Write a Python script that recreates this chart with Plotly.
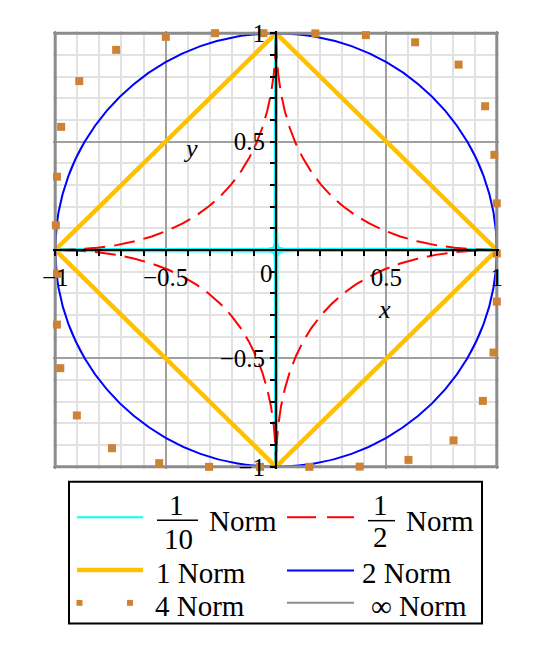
import plotly.graph_objects as go

# ---------------- data (first-quadrant samples) ----------------
# 1/10 norm (hugs the axes, tiny fillet at the origin)
TENTH_X = [1.0, 0.1, 0.03, 0.012, 0.006, 0.002, 0.0, 0.0]
TENTH_Y = [0.0, 0.0, 0.002, 0.006, 0.012, 0.03, 0.1, 1.0]
# 1/2 norm
HALF_X = [1.0, 0.9025, 0.81, 0.7225, 0.64, 0.5625, 0.49, 0.4225, 0.36, 0.3025, 0.25,
          0.2025, 0.16, 0.1225, 0.09, 0.0625, 0.04, 0.0225, 0.01, 0.0025, 0.0]
HALF_Y = [0.0, 0.0025, 0.01, 0.0225, 0.04, 0.0625, 0.09, 0.1225, 0.16, 0.2025, 0.25,
          0.3025, 0.36, 0.4225, 0.49, 0.5625, 0.64, 0.7225, 0.81, 0.9025, 1.0]
# 1 norm
ONE_X = [1.0, 0.0]
ONE_Y = [0.0, 1.0]
# 2 norm
TWO_X = [1.0, 0.985, 0.94, 0.866, 0.766, 0.643, 0.5, 0.342, 0.174, 0.0]
TWO_Y = [0.0, 0.174, 0.342, 0.5, 0.643, 0.766, 0.866, 0.94, 0.985, 1.0]
# 4 norm (sparse points, full loop)
FOUR_X = [1.0, 1.0, 0.989, 0.947, 0.827, 0.63, 0.407, 0.178, -0.057, -0.276, -0.499,
          -0.724, -0.891, -0.973, -0.992, -0.997, -0.992, -0.992, -0.977, -0.902, -0.743,
          -0.529, -0.303, -0.072, 0.151, 0.379, 0.6, 0.804, 0.937, 0.985, 1.0]
FOUR_Y = [-0.016, 0.215, 0.439, 0.663, 0.855, 0.958, 0.991, 0.999, 1.0, 1.0, 0.983,
          0.923, 0.779, 0.568, 0.338, 0.114, -0.11, -0.344, -0.545, -0.763, -0.914,
          -0.983, -1.0, -1.0, -1.0, -0.999, -0.968, -0.878, -0.696, -0.473, -0.238]
# infinity norm
INF_X = [1.0, 1.0, 0.0]
INF_Y = [0.0, 1.0, 1.0]

X_TICKS = [-1, -0.5, 0.5, 1]
X_TICKTEXT = ["\u22121", "\u22120.5", "0.5", "1"]
Y_TICKS = [-1, -0.5, 0.5, 1]
Y_TICKTEXT = ["\u22121", "\u22120.5", "0.5", "1"]


def loop(qx, qy):
    """Build the closed curve from one quadrant by reflection."""
    xs, ys = list(qx), list(qy)
    rx, ry = qx[::-1], qy[::-1]
    xs += [-v for v in rx]; ys += list(ry)
    xs += [-v for v in qx]; ys += [-v for v in qy]
    xs += list(rx); ys += [-v for v in ry]
    return xs, ys


FONT = "Liberation Serif, Times New Roman, serif"

fig = go.Figure()

tx, ty = loop(TENTH_X, TENTH_Y)
fig.add_trace(go.Scatter(x=tx, y=ty, mode="lines", line=dict(color="#00FFFF", width=4),
                         showlegend=False, hoverinfo="skip"))
hx, hy = loop(HALF_X, HALF_Y)
fig.add_trace(go.Scatter(x=hx, y=hy, mode="lines",
                         line=dict(color="#FF0000", width=2, dash="21px,9px"),
                         showlegend=False, hoverinfo="skip"))
ox, oy = loop(ONE_X, ONE_Y)
fig.add_trace(go.Scatter(x=ox, y=oy, mode="lines", line=dict(color="#FFC000", width=4.5),
                         showlegend=False, hoverinfo="skip"))
cx, cy = loop(TWO_X, TWO_Y)
fig.add_trace(go.Scatter(x=cx, y=cy, mode="lines", line=dict(color="#0000FF", width=2, shape="spline"),
                         showlegend=False, hoverinfo="skip"))
ix, iy = loop(INF_X, INF_Y)
fig.add_trace(go.Scatter(x=ix, y=iy, mode="lines", line=dict(color="#8C8C8C", width=3),
                         showlegend=False, hoverinfo="skip"))
fig.add_trace(go.Scatter(x=FOUR_X, y=FOUR_Y, mode="markers",
                         marker=dict(symbol="square", size=8, color="#CD8236", line=dict(width=0)),
                         cliponaxis=False, showlegend=False, hoverinfo="skip"))

# the page body adds an 8px margin; the figure is sized so the picture lands in place
OFF = 8
W_FIG, H_FIG = 555 - OFF, 651 - OFF
L, R, T, B = 53, 499, 24, 469
PW, PH = R - L, B - T


def px(x):
    return (x - L) / PW


def py(y):
    return (B - y) / PH


axis_common = dict(
    range=[-1.01, 1.01], anchor="free", position=0.5, showline=True, linecolor="black",
    linewidth=2, zeroline=False, ticks="outside", ticklen=5, tickwidth=1.5, tickcolor="black",
    showgrid=True, gridcolor="#A0A0A0", gridwidth=2,
    tickfont=dict(family=FONT, size=25, color="black"),
    minor=dict(tickmode="linear", tick0=0, dtick=0.1, ticks="outside", ticklen=5,
               tickwidth=1.5, tickcolor="black", showgrid=True, gridcolor="#E2E2E2", gridwidth=2),
    layer="above traces", fixedrange=True,
)

fig.update_layout(
    width=W_FIG, height=H_FIG, autosize=False,
    margin=dict(l=L - OFF, r=555 - R, t=T - OFF, b=651 - B, pad=0),
    paper_bgcolor="white", plot_bgcolor="white",
    xaxis=dict(axis_common, side="bottom", tickmode="array", tickvals=X_TICKS,
               ticktext=X_TICKTEXT, ticklabelstandoff=0),
    yaxis=dict(axis_common, side="left", tickmode="array", tickvals=Y_TICKS,
               ticktext=Y_TICKTEXT, ticklabelstandoff=0),
    showlegend=False,
)

ann = []


def text(s, x, y, size=29, xanchor="left", italic=False):
    ann.append(dict(text=("<i>%s</i>" % s) if italic else s, x=px(x), y=py(y),
                    xref="paper", yref="paper", xanchor=xanchor, yanchor="middle",
                    showarrow=False, font=dict(family=FONT, size=size, color="black")))


# axis labels and origin label
text("x", 384.5, 307, size=26, xanchor="center", italic=True)
text("y", 190, 143, size=26, xanchor="center", italic=True)
text("0", 266, 270, size=25, xanchor="center")

# legend texts
text("1", 176.5, 506, xanchor="center")
text("10", 178, 540, xanchor="center")
text("Norm", 207, 522)
text("1", 380.5, 506, xanchor="center")
text("2", 380, 538, xanchor="center")
text("Norm", 404, 522)
text("1 Norm", 154, 575)
text("2 Norm", 360, 575)
text("4 Norm", 153, 608)
text("\u221e Norm", 369, 608)

shapes = []


def hline(x0, x1, y, color, width, dash=None):
    shapes.append(dict(type="line", xref="paper", yref="paper", x0=px(x0), x1=px(x1),
                       y0=py(y), y1=py(y), line=dict(color=color, width=width, dash=dash)))


shapes.append(dict(type="rect", xref="paper", yref="paper", x0=px(69), x1=px(482),
                   y0=py(626), y1=py(482), line=dict(color="black", width=2)))
hline(77, 143, 518, "#00FFFF", 2)
hline(287, 316, 518, "#FF0000", 2)
hline(327, 354, 518, "#FF0000", 2)
hline(77, 143, 571.5, "#FFC000", 4.5)
hline(287, 354, 572, "#0000FF", 2)
hline(287, 354, 605, "#8C8C8C", 2)
hline(157, 198, 521, "black", 1.5)
hline(368, 395, 521.5, "black", 1.5)
for cxp in (79.5, 130):
    shapes.append(dict(type="rect", xref="paper", yref="paper", x0=px(cxp - 3), x1=px(cxp + 3),
                       y0=py(605 + 3), y1=py(605 - 3), fillcolor="#CD8236", line=dict(width=0)))

fig.update_layout(annotations=ann, shapes=shapes)
fig.write_html("out.html")
